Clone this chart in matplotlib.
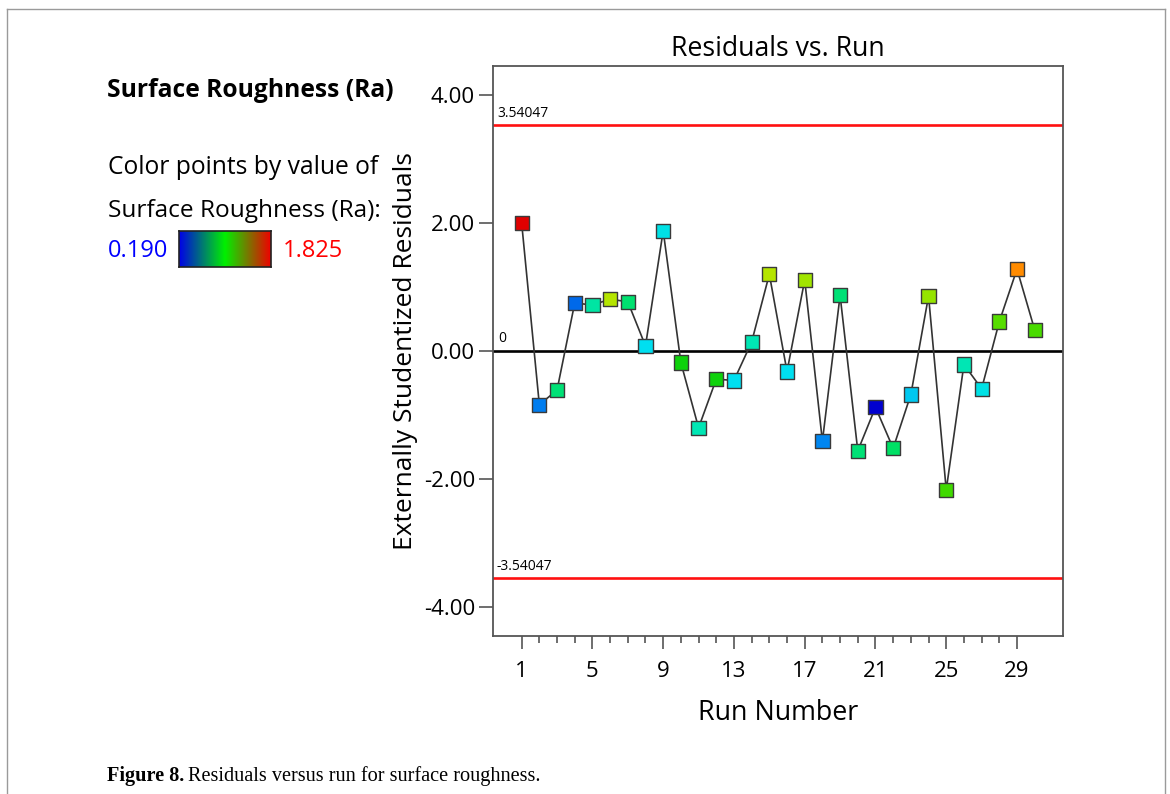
import matplotlib
matplotlib.use("Agg")
import matplotlib.pyplot as plt
from matplotlib.colors import LinearSegmentedColormap
from matplotlib.lines import Line2D
import numpy as np

# dane
runs = list(range(1, 31))
residuals = [2.00, -0.84, -0.61, 0.75, 0.72, 0.81, 0.77, 0.08, 1.88, -0.18,
             -1.20, -0.44, -0.46, 0.14, 1.20, -0.32, 1.11, -1.41, 0.87, -1.56,
             -0.88, -1.52, -0.68, 0.86, -2.17, -0.21, -0.59, 0.46, 1.28, 0.33]
ra = [1.825, 0.386, 0.926, 0.354, 0.844, 1.335, 0.942, 0.648, 0.681, 1.073,
      0.811, 1.073, 0.648, 0.811, 1.335, 0.648, 1.302, 0.403, 0.926, 0.926,
      0.190, 0.958, 0.582, 1.285, 1.155, 0.811, 0.681, 1.187, 1.580, 1.171]
ra_min, ra_max = 0.190, 1.825
limit = 3.54047
major_ticks = [1, 5, 9, 13, 17, 21, 25, 29]
y_ticks = [-4, -2, 0, 2, 4]

W, H = 1170, 794
plt.rcParams['font.family'] = ['Open Sans', 'DejaVu Sans']

def px(x, y):
    # piksele -> wspolrzedne figury
    return x / W, 1 - y / H

fig = plt.figure(figsize=(W / 100, H / 100), dpi=100)
ax = fig.add_axes([493 / W, 1 - 635.7 / H, (1063 - 493) / W, (635.7 - 65.7) / H])

# kolory punktow (jak w Design-Expert)
cmap_pts = LinearSegmentedColormap.from_list("pts", [
    (0.0, '#0000d0'), (0.12, '#0080f0'), (0.28, '#00e0f0'), (0.38, '#00e6b4'),
    (0.47, '#00e066'), (0.55, '#10d000'), (0.62, '#60e000'), (0.70, '#b4e600'),
    (0.85, '#ff8c00'), (1.0, '#e00000')])

ax.axhline(limit, color='#ff1010', lw=1.9, zorder=1)
ax.axhline(-limit, color='#ff1010', lw=1.9, zorder=1)
ax.axhline(0, color='black', lw=1.9, zorder=1)
ax.text(-0.4, limit + 0.06, "3.54047", fontsize=10, va='bottom', ha='left')
ax.text(-0.4, -limit + 0.06, "-3.54047", fontsize=10, va='bottom', ha='left')
ax.text(-0.3, 0.08, "0", fontsize=10, va='bottom', ha='left')

ax.plot(runs, residuals, color='#333333', lw=1.2, zorder=2)
ax.scatter(runs, residuals, c=ra, cmap=cmap_pts, vmin=ra_min, vmax=ra_max,
           marker='s', s=105, edgecolors='#3a3a3a', linewidths=1.0, zorder=3)

ax.set_xlim(-0.62, 31.6)
ax.set_ylim(-4.45, 4.46)
ax.set_xticks(major_ticks)
ax.set_xticks(range(1, 30), minor=True)
ax.set_yticks(y_ticks)
ax.set_yticklabels([f"{v:.2f}" for v in y_ticks])

for s in ax.spines.values():
    s.set_color('#555555')
    s.set_linewidth(1.3)
ax.tick_params(axis='y', length=10, width=1.2, color='#555555', labelsize=16, pad=3)
ax.tick_params(axis='x', which='major', length=9.5, width=1.2, color='#555555', labelsize=16, pad=9)
ax.tick_params(axis='x', which='minor', length=5, width=1.2, color='#555555')

ax.set_title("Residuals vs. Run", fontsize=19.2, pad=7)
ax.set_xlabel("Run Number", fontsize=19.4, labelpad=12)
ax.set_ylabel("Externally Studentized Residuals", fontsize=19, labelpad=4)

# legenda po lewej
fig.text(*px(107, 97), "Surface Roughness (Ra)", fontsize=17.7, fontweight='bold', va='baseline')
fig.text(*px(108, 174), "Color points by value of", fontsize=17.7, va='baseline')
fig.text(*px(108, 217), "Surface Roughness (Ra):", fontsize=17.6, va='baseline')
fig.text(*px(108, 257), f"{ra_min:.3f}", fontsize=17, va='baseline', color='#0000ff')
fig.text(*px(283, 257), f"{ra_max:.3f}", fontsize=17, va='baseline', color='#ff0000')

cb_ax = fig.add_axes([179 / W, 1 - 267 / H, (271 - 179) / W, (267 - 231) / H])
cmap_leg = LinearSegmentedColormap.from_list("leg", ['#0000e8', '#00f000', '#f00000'])
cb_ax.imshow(np.linspace(0, 1, 256)[None, :], aspect='auto', cmap=cmap_leg)
cb_ax.set_xticks([])
cb_ax.set_yticks([])
for s in cb_ax.spines.values():
    s.set_color('#222222')
    s.set_linewidth(1.2)

# ramka wokol rysunku
fc = '#9a9a9a'
fig.add_artist(Line2D([7 / W, 7 / W], [0, 1 - 9 / H], transform=fig.transFigure, color=fc, lw=1))
fig.add_artist(Line2D([7 / W, 1165 / W], [1 - 9 / H, 1 - 9 / H], transform=fig.transFigure, color=fc, lw=1))
fig.add_artist(Line2D([1165 / W, 1165 / W], [0, 1 - 9 / H], transform=fig.transFigure, color=fc, lw=1))

# podpis
serif = ['Liberation Serif', 'DejaVu Serif']
t1 = fig.text(*px(107, 781), "Figure 8.", fontsize=14.6, fontweight='bold', family=serif, va='baseline')
renderer = fig.canvas.get_renderer()
bb = t1.get_window_extent(renderer)
fig.text(bb.x1 / W + 4 / W, 1 - 781 / H, "Residuals versus run for surface roughness.",
         fontsize=14.6, family=serif, va='baseline')

fig.savefig("out.png", dpi=100)
